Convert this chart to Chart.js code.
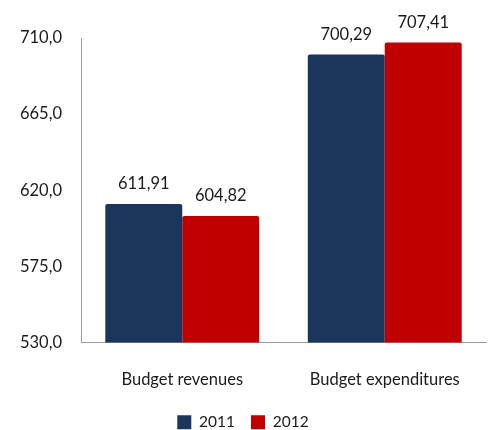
<!DOCTYPE html>
<html><head><meta charset="utf-8">
<script src="https://cdn.jsdelivr.net/npm/chart.js@4"></script>
<style>html,body{margin:0;padding:0;background:#fff}#wrap{width:489px;height:430px}</style>
</head><body><div id="wrap"><canvas id="c" width="489" height="430"></canvas></div>
<script>
const categories = ["Budget revenues", "Budget expenditures"];
const seriesNames = ["2011", "2012"];
const values2011 = [611.91, 700.29];
const values2012 = [604.82, 707.41];
const yTicks = [530, 575, 620, 665, 710];

const FONT = "Lato, 'Open Sans', sans-serif";
const FS = 16.5;
const fmt = (v, d) => v.toFixed(d).replace('.', ',');

const labelPlugin = {
  id: 'valueLabels',
  afterDatasetsDraw(chart) {
    const ctx = chart.ctx;
    ctx.save();
    ctx.font = FS + "px " + FONT;
    ctx.fillStyle = '#1a1a1a';
    ctx.textAlign = 'center';
    ctx.textBaseline = 'middle';
    chart.data.datasets.forEach((ds, i) => {
      chart.getDatasetMeta(i).data.forEach((el, j) => {
        ctx.fillText(fmt(ds.data[j], 2), el.x, el.y - 20);
      });
    });
    ctx.restore();
  }
};

new Chart(document.getElementById('c'), {
  type: 'bar',
  data: {
    labels: categories,
    datasets: [
      { label: seriesNames[0], data: values2011, backgroundColor: '#1B365D' },
      { label: seriesNames[1], data: values2012, backgroundColor: '#C00000' }
    ]
  },
  options: {
    responsive: false,
    animation: false,
    layout: { padding: { top: 38, right: 3, left: 0, bottom: -10 } },
    datasets: { bar: { categoryPercentage: 0.76, barPercentage: 1.0, borderRadius: 2, borderSkipped: 'bottom' } },
    scales: {
      x: {
        grid: { display: false, drawTicks: false },
        border: { display: true, color: '#9a9a9a', width: 1 },
        ticks: { padding: 27, color: '#1a1a1a', font: { family: FONT, size: FS } },
        afterFit(s) { s.height = 56; }
      },
      y: {
        min: 530, max: 710,
        afterBuildTicks(s) { s.ticks = yTicks.map(v => ({ value: v })); },
        grid: { display: false, drawTicks: false },
        border: { display: true, color: '#9a9a9a', width: 1 },
        ticks: { padding: 19, color: '#1a1a1a', font: { family: FONT, size: FS }, callback: v => fmt(v, 1) },
        afterFit(s) { s.width = 81; }
      }
    },
    plugins: {
      legend: {
        position: 'bottom',
        labels: { boxWidth: 14, boxHeight: 14, padding: 16, color: '#1a1a1a', font: { family: FONT, size: 15.5 } }
      },
      tooltip: { enabled: false }
    }
  },
  plugins: [labelPlugin]
});
</script></body></html>
